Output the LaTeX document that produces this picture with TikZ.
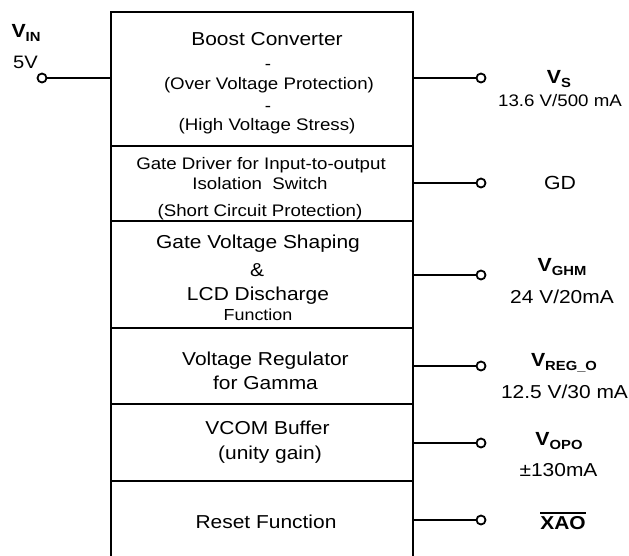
\documentclass[tikz,border=0pt]{standalone}
\usepackage{fontspec}
\setmainfont{Liberation Sans}[FakeStretch=1.12]
\newcommand\fsz[1]{\fontsize{#1}{#1}\selectfont}
\newcommand\vsub[1]{V\raisebox{-0.38ex}{\fsz{13.2}#1}}
\newcommand\ovl[1]{\leavevmode\vbox{\hrule height 1.9pt\kern 2.4pt\hbox{#1}}}
\begin{document}
\begin{tikzpicture}[x=1pt,y=-1pt,
  blk/.style={draw, line width=2pt, minimum width=302pt, inner sep=0pt, outer sep=0pt, anchor=north},
  txt/.style={inner sep=0pt, text height=13.4pt, text depth=0pt, anchor=center, font=\fsz{18.7}},
  sml/.style={txt, text height=12pt, font=\fsz{16.7}},
  sig/.style={txt, text height=13.6pt, font=\bfseries\fsz{19}},
  term/.style={circle, draw, line width=1.8pt, fill=white, minimum size=9pt, inner sep=0pt},
  wire/.style={line width=2pt}]
\useasboundingbox (0,0) rectangle (629,555);
% blocks
\node[blk, minimum height=134pt] (b1) at (262,12) {};
\node[blk, minimum height=75pt] (b2) at (262,146) {};
\node[blk, minimum height=107pt] (b3) at (262,221) {};
\node[blk, minimum height=76pt] (b4) at (262,328) {};
\node[blk, minimum height=77pt] (b5) at (262,404) {};
\node[blk, draw=none, minimum height=78pt] (b6) at (262,481) {};
\draw[line width=2pt] (b6.north west) -- (b6.south west);
\draw[line width=2pt] (b6.north east) -- (b6.south east);
% block texts
\node[txt] (t11) at (267,38.8) {Boost Converter};
\node[sml] (t12) at (268,63) {-};
\node[sml] (t13) at (269,83) {(Over Voltage Protection)};
\node[sml] (t14) at (268,105) {-};
\node[sml] (t15) at (267,124) {(High Voltage Stress)};
\node[sml] (t21) at (261,163) {Gate Driver for Input-to-output};
\node[sml] (t22) at (260,183) {Isolation\ \ Switch};
\node[sml] (t23) at (260,210) {(Short Circuit Protection)};
\node[txt] (t31) at (258,242) {Gate Voltage Shaping};
\node[txt] (t32) at (257,270) {\&};
\node[txt] (t33) at (258,294) {LCD Discharge};
\node[txt, text height=11.5pt, font=\fsz{16}] (t34) at (258,315) {Function};
\node[txt] (t41) at (265.5,359) {Voltage Regulator};
\node[txt] (t42) at (265.5,383) {for Gamma};
\node[txt] (t51) at (267.5,428) {VCOM Buffer};
\node[txt] (t52) at (270,453) {(unity gain)};
\node[txt] (t61) at (266,522) {Reset Function};
% input
\node[term] (vin) at (42,78) {};
\draw[wire] (vin) -- (vin -| b1.west);
\node[sig] (lvin) at (26,31) {\vsub{IN}};
\node[txt, text height=12.9pt, font=\fsz{18}] (l5v) at (25.5,62) {5V};
% outputs
\node[term] (o1) at (481,78) {};
\node[term] (o2) at (481,183) {};
\node[term] (o3) at (481,275) {};
\node[term] (o4) at (481,366) {};
\node[term] (o5) at (481,443) {};
\node[term] (o6) at (481,520) {};
\draw[wire] (o1 -| b1.east) -- (o1);
\draw[wire] (o2 -| b2.east) -- (o2);
\draw[wire] (o3 -| b3.east) -- (o3);
\draw[wire] (o4 -| b4.east) -- (o4);
\draw[wire] (o5 -| b5.east) -- (o5);
\draw[wire] (o6 -| b6.east) -- (o6);
% output labels
\node[sig] (ls) at (559,77) {\vsub{S}};
\node[sml] (vs) at (560,100) {13.6 V/500 mA};
\node[txt, text height=13.6pt, font=\fsz{19}] (gd) at (560,183) {GD};
\node[sig] (lghm) at (562,265) {\vsub{GHM}};
\node[txt] (vghm) at (562,297) {24 V/20mA};
\node[sig] (lreg) at (564,360) {\vsub{REG\_O}};
\node[txt] (vreg) at (564.5,392) {12.5 V/30 mA};
\node[sig] (lopo) at (559,439) {\vsub{OPO}};
\node[txt] (vopo) at (558.5,470) {±130mA};
\node[txt, font=\bfseries\fsz{18.7}] (xao) at (563,523) {\ovl{XAO}};
\end{tikzpicture}
\end{document}
